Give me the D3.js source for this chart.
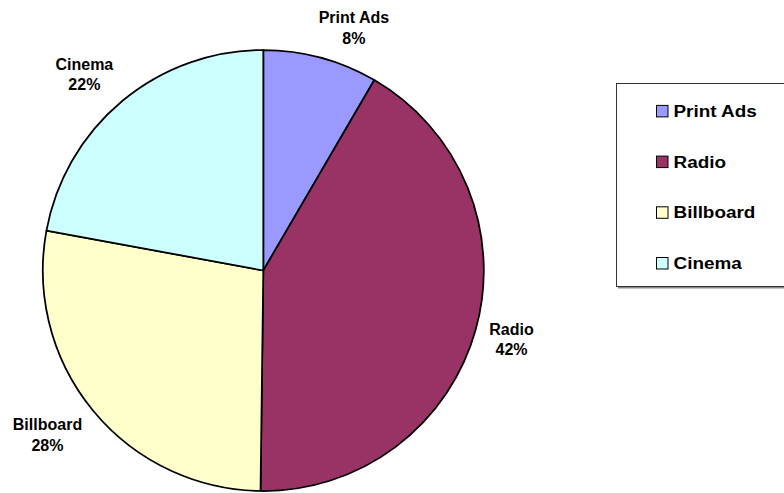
<!DOCTYPE html>
<html>
<head>
<meta charset="utf-8">
<script src="https://cdn.jsdelivr.net/npm/d3@7"></script>
<style>
  html, body { margin: 0; padding: 0; background: #fff; }
  svg { display: block; }
  text { font-family: "Liberation Sans", Arial, sans-serif; font-weight: bold; fill: #000; }
</style>
</head>
<body>
<svg id="chart" width="784" height="493"></svg>
<script>
// Advertising budget share by channel
const categories = ["Print Ads", "Radio", "Billboard", "Cinema"];
const shares = [8.4, 41.8, 27.7, 22.1];
const colors = ["#9999FF", "#993366", "#FFFFCC", "#CCFFFF"];

const width = 784, height = 493;
const cx = 263.3, cy = 270.5, radius = 220.5;

const svg = d3.select("#chart");
const data = categories.map((c, i) => ({ name: c, value: shares[i], color: colors[i] }));
const total = d3.sum(shares);

const pie = d3.pie().sort(null).value(d => d.value);
const arc = d3.arc().innerRadius(0).outerRadius(radius);
const arcs = pie(data);

const g = svg.append("g").attr("transform", `translate(${cx},${cy})`);

g.selectAll("path.slice")
  .data(arcs)
  .enter().append("path")
  .attr("class", "slice")
  .attr("d", arc)
  .attr("fill", d => d.data.color)
  .attr("stroke", "#000")
  .attr("stroke-width", 1.75)
  .attr("stroke-linejoin", "round");

// Data labels: name + rounded percentage, placed just outside the rim
const labelGap = 14;
const lineGap = 20.7;
const clamp = v => Math.max(-1, Math.min(1, v));

arcs.forEach(a => {
  const mid = (a.startAngle + a.endAngle) / 2;
  const dx = Math.sin(mid), dy = -Math.cos(mid);
  const lbl = g.append("text").attr("text-anchor", "middle").style("font-size", "16px");
  const pct = Math.round(a.data.value / total * 100) + "%";
  const t1 = lbl.append("tspan").text(a.data.name);
  const t2 = lbl.append("tspan").text(pct);
  const w = Math.max(t1.node().getComputedTextLength(), t2.node().getComputedTextLength());
  const hh = 15.7;
  const rr = radius + labelGap;
  const lx = rr * dx + (w / 2) * clamp(3.2 * dx);
  const ly = rr * dy + hh * clamp(1.6 * dy);
  t1.attr("x", lx).attr("y", ly - 5);
  t2.attr("x", lx).attr("y", ly - 5 + lineGap);
});

// Legend
const legX = 616, legY = 83.5, legW = 200, legH = 203;
svg.append("rect")
  .attr("x", legX + 2).attr("y", legY + 2)
  .attr("width", legW).attr("height", legH)
  .attr("fill", "#888");
svg.append("rect")
  .attr("x", legX + 0.5).attr("y", legY)
  .attr("width", legW).attr("height", legH)
  .attr("fill", "#fff")
  .attr("stroke", "#333")
  .attr("stroke-width", 1);

const rowY = d3.scalePoint().domain(categories).range([116.9, 269]);
const legend = svg.append("g");
categories.forEach((c, i) => {
  const y = rowY(c);
  legend.append("rect")
    .attr("x", 656.5).attr("y", y - 11.5)
    .attr("width", 11.5).attr("height", 11.5)
    .attr("fill", colors[i])
    .attr("stroke", "#000")
    .attr("stroke-width", 1);
  const t = legend.append("text")
    .attr("x", 673.5).attr("y", y)
    .style("font-size", "16px")
    .text(c);
  const len = t.node().getComputedTextLength();
  t.attr("textLength", len * 1.18).attr("lengthAdjust", "spacingAndGlyphs");
});
</script>
</body>
</html>
